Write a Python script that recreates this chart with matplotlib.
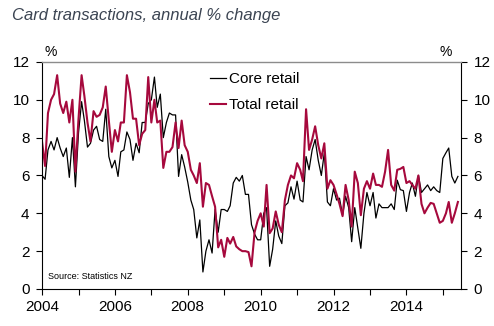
import matplotlib
matplotlib.use("Agg")
import matplotlib.pyplot as plt
import matplotlib.dates as mdates
import pandas as pd

plt.rcParams["font.family"] = ["Liberation Sans", "DejaVu Sans"]

# Monthly card spending, annual % change, Jan 2004 - Jun 2015
months = pd.date_range("2004-01-01", periods=138, freq="MS")

core_retail = [
    6.0, 5.8, 7.35, 7.8, 7.35, 8.0, 7.45, 7.0, 7.45, 5.9, 8.0, 5.4,
    8.25, 9.9, 8.9, 7.5, 7.7, 8.4, 8.6, 7.9, 7.8, 9.5, 7.0, 6.4,
    6.8, 5.95, 7.25, 7.35, 8.3, 7.9, 6.8, 7.7, 7.2, 8.8, 8.8, 9.8,
    10.0, 11.2, 9.6, 10.3, 8.0, 8.8, 9.3, 9.2, 9.2, 5.95, 7.1, 6.45,
    5.65, 4.7, 4.2, 2.7, 3.65, 0.9, 2.0, 2.6, 1.9, 4.2, 3.0, 4.2,
    4.2, 4.1, 4.4, 5.6, 5.9, 5.7, 6.0, 5.0, 5.0, 3.4, 2.9, 2.6,
    2.6, 4.0, 4.3, 1.2, 2.1, 3.6, 2.8, 2.4, 4.4, 4.55, 5.4, 4.75,
    5.7, 4.7, 4.6, 7.0, 6.3, 7.35, 7.9, 6.8, 6.0, 7.2, 4.6, 4.4,
    5.3, 4.7, 4.8, 3.9, 4.9, 4.3, 2.5, 4.3, 3.2, 2.15, 4.0, 5.1,
    4.4, 5.1, 3.75, 4.5, 4.3, 4.3, 4.3, 4.5, 4.2, 5.75, 5.25, 5.2,
    4.1, 5.1, 5.6, 4.9, 6.0, 5.1, 5.3, 5.5, 5.2, 5.4, 5.2, 5.1,
    6.9, 7.2, 7.45, 5.95, 5.6, 5.95,
]

total_retail = [
    7.8, 6.5, 9.3, 10.0, 10.3, 11.3, 9.8, 9.3, 9.9, 8.8, 10.0, 6.2,
    9.0, 11.3, 10.2, 8.8, 7.8, 9.4, 9.1, 9.2, 9.6, 10.7, 8.9, 7.25,
    8.4, 7.8, 8.8, 8.8, 11.3, 10.4, 9.0, 9.0, 7.6, 8.2, 8.4, 11.2,
    8.8, 10.0, 8.8, 8.9, 6.4, 7.25, 7.25, 7.5, 8.8, 7.45, 8.9, 7.6,
    7.25, 6.3, 6.0, 5.6, 6.65, 4.35, 5.6, 5.5, 4.9, 4.35, 2.2, 2.6,
    1.7, 2.7, 2.4, 2.75, 2.25, 2.1, 2.0, 2.0, 1.95, 1.2, 3.0, 3.6,
    4.0, 3.3, 5.5, 2.95, 3.2, 4.1, 3.4, 3.0, 4.7, 5.5, 6.0, 5.85,
    6.65, 6.3, 5.7, 9.5, 7.35, 7.9, 8.6, 7.6, 6.9, 7.7, 5.3, 5.75,
    5.5, 5.0, 4.5, 3.85, 5.5, 4.7, 3.3, 6.2, 5.6, 3.9, 5.3, 5.7,
    5.3, 6.1, 5.5, 5.5, 5.4, 6.2, 7.35, 5.5, 5.2, 6.3, 6.35, 6.45,
    5.6, 5.7, 5.5, 5.3, 6.0, 4.5, 4.0, 4.3, 4.55, 4.5, 4.0, 3.5,
    3.6, 4.0, 4.6, 3.5, 4.0, 4.6,
]

y_ticks = [0, 2, 4, 6, 8, 10, 12]

RED = "#a6093d"

fig = plt.figure(figsize=(4.94, 3.26), dpi=100)
ax = fig.add_axes([0.085, 0.1135, 0.848, 0.6965])

ax.plot(months, core_retail, color="black", lw=0.9, label="Core retail")
ax.plot(months, total_retail, color=RED, lw=1.5, label="Total retail")

ax.set_xlim(pd.Timestamp("2004-01-01"), pd.Timestamp("2015-07-01"))
ax.set_ylim(0, 12)
ax.set_yticks(y_ticks)

# year ticks, labels every second year
ax.xaxis.set_major_locator(mdates.YearLocator(2))
ax.xaxis.set_major_formatter(mdates.DateFormatter("%Y"))
ax.xaxis.set_minor_locator(mdates.YearLocator(1))

ax.tick_params(axis="both", which="both", direction="out", length=4,
               width=0.8, labelsize=11, colors="black")
ax.tick_params(axis="y", right=True, labelright=True, pad=5)
ax.tick_params(axis="x", pad=4)

for side in ["left", "right", "bottom"]:
    ax.spines[side].set_color("black")
    ax.spines[side].set_linewidth(0.8)
ax.spines["top"].set_color("#8c8c8c")
ax.spines["top"].set_linewidth(1.0)

leg = ax.legend(loc="upper left", bbox_to_anchor=(0.40, 0.955), frameon=False,
                fontsize=11, handlelength=1.1, handletextpad=0.2,
                labelspacing=0.8, borderpad=0, borderaxespad=0)

ax.text(0.014, 0.054, "Source: Statistics NZ", transform=ax.transAxes,
        fontsize=6.5, va="center", ha="left")

fig.text(0.024, 0.953, "Card transactions, annual % change", fontsize=12,
         style="italic", color="#3b4452", va="center", ha="left")
fig.text(0.103, 0.842, "%", fontsize=10, va="center", ha="center")
fig.text(0.903, 0.842, "%", fontsize=10, va="center", ha="center")

fig.savefig("out.png", dpi=100)
